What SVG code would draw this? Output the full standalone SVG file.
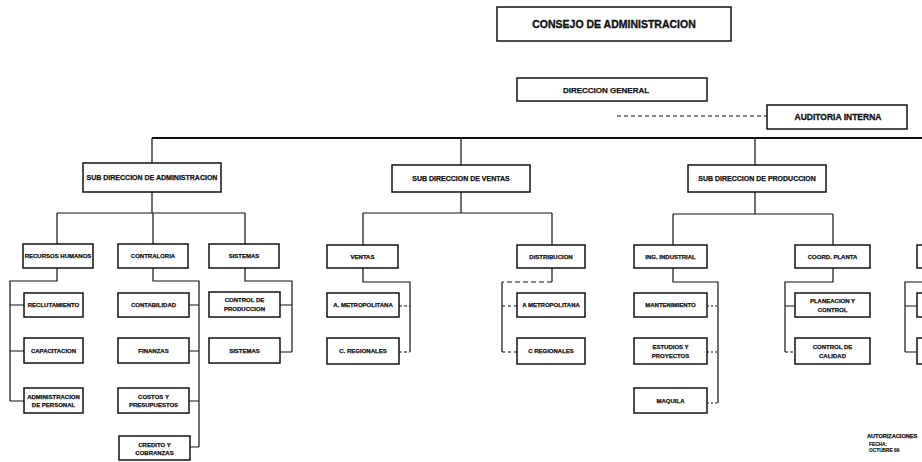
<svg xmlns="http://www.w3.org/2000/svg" width="922" height="462" viewBox="0 0 922 462">
<style>
  .bg{fill:#fff}
  .box{fill:#fff;stroke:#111;stroke-width:1.5}
  .ln{fill:none;stroke:#111;stroke-width:1.2}
  .main{fill:none;stroke:#111;stroke-width:1.8}
  .dash{fill:none;stroke:#111;stroke-width:1.2;stroke-dasharray:4 3}
  text{font-family:"Liberation Sans",Arial,sans-serif;font-weight:bold;fill:#111;stroke:#111;stroke-width:0.25;text-anchor:middle}
  .t10{font-size:10.5px;stroke-width:0.35}
  .t8{font-size:8px}
  .t85{font-size:8.5px;stroke-width:0.3}
  .t7{font-size:7px}
  .t6{font-size:6px}
  .ts{font-size:5.6px;text-anchor:start}
  .tx{font-size:4.8px;text-anchor:start;stroke-width:0.15}
</style>
<rect class="bg" x="0" y="0" width="922" height="462"/>

<g id="connectors">
  <path class="dash" d="M617 116 H767"/>
  <path class="main" d="M152 138 H922"/>
  <!-- administracion -->
  <path class="ln" d="M152 138 V163 M152 192 V213 M57 213 H245 M57 213 V244 M153 213 V244 M245 213 V244"/>
  <path class="ln" d="M57 268 V281 H10 V401 M10 305 H24 M10 351 H24 M10 401 H24"/>
  <path class="ln" d="M153 268 V281 H199 V447 M189 305 H199 M189 351 H199 M189 401 H199 M190 447 H199"/>
  <path class="ln" d="M245 268 V281 H292 V352 M280 305 H292 M280 352 H292"/>
  <!-- ventas -->
  <path class="ln" d="M461 138 V165 M461 192 V213 M363 213 H552 M363 213 V245 M552 213 V245"/>
  <path class="ln" d="M363 268 V282 H410 V352"/>
  <path class="dash" d="M399 306 H410 M399 352 H410" style="stroke-dasharray:3 2"/>
  <path class="ln" d="M552 268 V282"/>
  <path class="dash" d="M552 282 H502" style="stroke-dasharray:5 3"/>
  <path class="ln" d="M502 282 V352"/>
  <path class="dash" d="M502 306 H517 M502 352 H517" style="stroke-dasharray:3 3"/>
  <!-- produccion -->
  <path class="ln" d="M755 138 V165 M755 192 V214 M673 214 H833 M673 214 V245 M833 214 V245"/>
  <path class="ln" d="M673 268 V282 H718 V403"/>
  <path class="dash" d="M707 306 H718 M707 352 H718 M707 403 H718" style="stroke-dasharray:2 2"/>
  <path class="ln" d="M833 268 V282 H785 V352 M785 306 H795"/>
  <path class="dash" d="M785 352 H795" style="stroke-dasharray:3 2"/>
  <path class="ln" d="M922 282 H905 V352 M905 306 H917 M905 352 H917"/>
</g>

<g id="consejo"><rect class="box" x="497" y="7" width="234" height="34"/><text class="t10" x="614" y="27.8">CONSEJO DE ADMINISTRACION</text></g>
<g id="direccion-general"><rect class="box" x="517" y="78" width="190" height="23"/><text class="t8" x="606" y="93">DIRECCION GENERAL</text></g>
<g id="auditoria"><rect class="box" x="767" y="105" width="140" height="24"/><text class="t85" x="838" y="119.8">AUDITORIA INTERNA</text></g>

<g id="sub-administracion"><rect class="box" x="83" y="163" width="138" height="29"/><text class="t7" x="152" y="180.3">SUB DIRECCION DE ADMINISTRACION</text></g>
<g id="sub-ventas"><rect class="box" x="392" y="165" width="138" height="27"/><text class="t7" x="461" y="181">SUB DIRECCION DE VENTAS</text></g>
<g id="sub-produccion"><rect class="box" x="688" y="165" width="138" height="27"/><text class="t7" x="757" y="181">SUB DIRECCION DE PRODUCCION</text></g>

<g id="recursos-humanos"><rect class="box" x="23" y="244" width="70" height="24"/><text class="t6" x="58" y="258.2">RECURSOS HUMANOS</text></g>
<g id="contraloria"><rect class="box" x="118" y="244" width="70" height="24"/><text class="t6" x="153" y="258.2">CONTRALORIA</text></g>
<g id="sistemas"><rect class="box" x="209" y="244" width="70" height="24"/><text class="t6" x="244" y="258.2">SISTEMAS</text></g>

<g id="reclutamiento"><rect class="box" x="24" y="293" width="59" height="24"/><text class="t6" x="53.5" y="307.2">RECLUTAMIENTO</text></g>
<g id="capacitacion"><rect class="box" x="24" y="338" width="59" height="25"/><text class="t6" x="53.5" y="352.7">CAPACITACION</text></g>
<g id="admin-personal"><rect class="box" x="24" y="388" width="59" height="25"/><text class="t6" x="53.5" y="398.5">ADMINISTRACION</text><text class="t6" x="53.5" y="407">DE PERSONAL</text></g>

<g id="contabilidad"><rect class="box" x="118" y="293" width="71" height="24"/><text class="t6" x="153.5" y="307.2">CONTABILIDAD</text></g>
<g id="finanzas"><rect class="box" x="118" y="338" width="71" height="25"/><text class="t6" x="153.5" y="352.7">FINANZAS</text></g>
<g id="costos"><rect class="box" x="118" y="388" width="71" height="25"/><text class="t6" x="153.5" y="398.5">COSTOS Y</text><text class="t6" x="153.5" y="407">PRESUPUESTOS</text></g>
<g id="credito"><rect class="box" x="119" y="436" width="71" height="24"/><text class="t6" x="154.5" y="446.5">CREDITO Y</text><text class="t6" x="154.5" y="455">COBRANZAS</text></g>

<g id="control-produccion"><rect class="box" x="209" y="292" width="71" height="25"/><text class="t6" x="244.5" y="302">CONTROL DE</text><text class="t6" x="244.5" y="310.8">PRODUCCION</text></g>
<g id="sistemas-2"><rect class="box" x="209" y="338" width="71" height="25"/><text class="t6" x="244.5" y="352.7">SISTEMAS</text></g>

<g id="ventas"><rect class="box" x="327" y="245" width="71" height="23"/><text class="t6" x="362.5" y="258.6">VENTAS</text></g>
<g id="distribucion"><rect class="box" x="517" y="245" width="68" height="23"/><text class="t6" x="551" y="258.6">DISTRIBUCION</text></g>
<g id="metropolitana-v"><rect class="box" x="327" y="293" width="72" height="24"/><text class="t6" x="363" y="307.2">A. METROPOLITANA</text></g>
<g id="regionales-v"><rect class="box" x="327" y="338" width="72" height="26"/><text class="t6" x="363" y="353.2">C. REGIONALES</text></g>
<g id="metropolitana-d"><rect class="box" x="517" y="293" width="68" height="24"/><text class="t6" x="551" y="307.2">A METROPOLITANA</text></g>
<g id="regionales-d"><rect class="box" x="517" y="338" width="68" height="26"/><text class="t6" x="551" y="353.2">C REGIONALES</text></g>

<g id="ing-industrial"><rect class="box" x="634" y="245" width="73" height="23"/><text class="t6" x="670.5" y="258.6">ING. INDUSTRIAL</text></g>
<g id="coord-planta"><rect class="box" x="795" y="245" width="75" height="23"/><text class="t6" x="832.5" y="258.6">COORD. PLANTA</text></g>
<g id="mantenimiento"><rect class="box" x="634" y="293" width="73" height="24"/><text class="t6" x="670.5" y="307.2">MANTENIMIENTO</text></g>
<g id="estudios"><rect class="box" x="634" y="338" width="73" height="26"/><text class="t6" x="670.5" y="348.5">ESTUDIOS Y</text><text class="t6" x="670.5" y="357.5">PROYECTOS</text></g>
<g id="maquila"><rect class="box" x="634" y="388" width="73" height="25"/><text class="t6" x="670.5" y="402.7">MAQUILA</text></g>
<g id="planeacion"><rect class="box" x="795" y="293" width="75" height="24"/><text class="t6" x="832.5" y="303">PLANEACION Y</text><text class="t6" x="832.5" y="311.8">CONTROL</text></g>
<g id="control-calidad"><rect class="box" x="795" y="338" width="75" height="26"/><text class="t6" x="832.5" y="348.5">CONTROL DE</text><text class="t6" x="832.5" y="357.5">CALIDAD</text></g>

<g id="partial-1"><rect class="box" x="917" y="245" width="20" height="23"/></g>
<g id="partial-2"><rect class="box" x="917" y="293" width="20" height="24"/></g>
<g id="partial-3"><rect class="box" x="917" y="338" width="20" height="26"/></g>

<g id="autorizaciones">
  <text class="ts" x="867" y="438">AUTORIZACIONES</text>
  <text class="tx" x="869" y="446">FECHA:</text>
  <text class="tx" x="869" y="452">OCTUBRE 89</text>
</g>
</svg>
